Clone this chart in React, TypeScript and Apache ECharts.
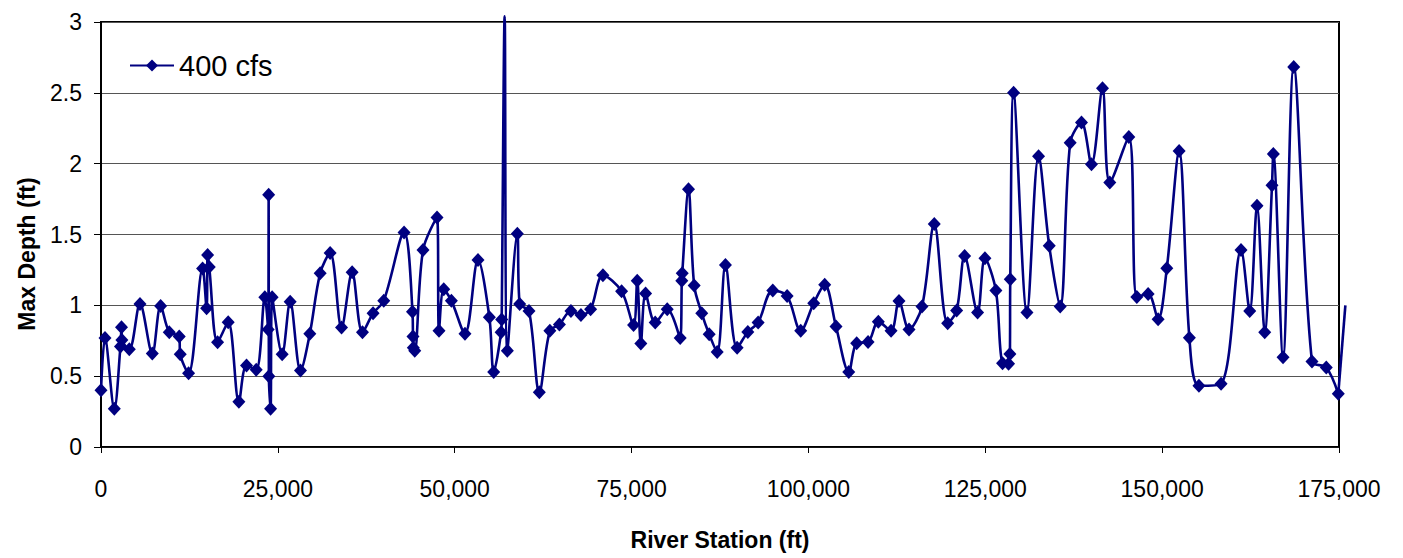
import React, { useEffect, useRef } from "react";
import * as echarts from "echarts";

const FONT = "'Liberation Sans', Arial, Helvetica, sans-serif";
const SERIES_NAME = "400 cfs";
const X_TITLE = "River Station (ft)";
const Y_TITLE = "Max Depth (ft)";
const LINE_COLOR = "#000080";

const X_MIN = 0;
const X_MAX = 175000;
const X_STEP = 25000;
const Y_MIN = 0;
const Y_MAX = 3;
const Y_STEP = 0.5;

const stations = [
  0, 565, 1880, 2750, 2900, 2950, 4000, 5510, 7250, 8430, 9650, 11060, 11200, 12380,
  14360, 14930, 15070, 15300, 16480, 17980, 19490, 20570, 21940, 23160, 23630, 23700,
  23730, 23970, 24190, 25610, 26740, 28200, 29520, 30980, 32390, 34000, 35500, 36960,
  38460, 39970, 42840, 44030, 44100, 44150, 44350, 45520, 47500, 47780, 48450, 49530,
  51450, 53290, 54900, 55510, 56560, 56640, 57060, 57440, 58850, 59180, 60500, 61960,
  63450, 64800, 66430, 67840, 69210, 70950, 73590, 75280, 75800, 76310, 76980, 78340,
  80040, 81870, 82100, 82160, 83050, 83850, 84920, 85970, 87100, 88270, 89920, 91430,
  92890, 94960, 96990, 98910, 100750, 102300, 103900, 105700, 106820, 108430, 109880,
  111680, 112800, 114220, 116050, 117790, 119680, 120950, 122080, 123910, 124950,
  126500, 127440, 128290, 128480, 128530, 129000, 130890, 132530, 134040, 135590,
  137000, 138600, 140010, 141570, 142600, 145290, 146420, 148020, 149430, 150660,
  152400, 153850, 155200, 158330, 161150, 162380, 163410, 164500, 165530, 165720,
  167090, 168600, 171180, 173200, 174900, 175900,
];

const depths = [
  0.4, 0.77, 0.27, 0.71, 0.846, 0.756, 0.69, 1.01, 0.66, 0.995, 0.81, 0.78, 0.655, 0.52,
  1.26, 0.98, 1.355, 1.27, 0.74, 0.88, 0.32, 0.575, 0.545, 1.057, 0.83, 1.78,
  0.5, 0.27, 1.057, 0.655, 1.026, 0.54, 0.8, 1.226, 1.37, 0.843, 1.233, 0.81,
  0.944, 1.033, 1.515, 0.955, 0.78, 0.7, 0.68, 1.39, 1.62, 0.82, 1.113, 1.033,
  0.8, 1.32, 0.916, 0.53, 0.81, 0.9, 3.04, 0.68, 1.505, 1.01, 0.96, 0.387,
  0.82, 0.865, 0.96, 0.932, 0.972, 1.212, 1.1, 0.862, 1.174, 0.73, 1.083, 0.878,
  0.972, 0.77, 1.174, 1.226, 1.82, 1.14, 0.944, 0.796, 0.67, 1.285, 0.7, 0.812,
  0.878, 1.104, 1.066, 0.82, 1.015, 1.146, 0.85, 0.53, 0.733, 0.742, 0.885,
  0.82, 1.031, 0.83, 0.991, 1.574, 0.874, 0.963, 1.348, 0.949, 1.332,
  1.104, 0.592, 0.587, 0.657, 1.184, 2.5, 0.949, 2.053, 1.42, 0.991,
  2.147, 2.29, 1.996, 2.532, 1.867, 2.189, 1.059, 1.08, 0.902, 1.261,
  2.09, 0.772, 0.432, 0.446, 1.39, 0.96, 1.703, 0.81, 1.848, 2.069,
  0.634, 2.682, 0.603, 0.561, 0.376, 1.0,
];

export default function App() {
  const ref = useRef<HTMLDivElement>(null);

  useEffect(() => {
    if (!ref.current) return;
    const chart = echarts.init(ref.current, null, { renderer: "svg" });

    // points inside the x-range go to the main line; the tail beyond X_MAX
    // (plus the last inside point) is drawn by a small custom series
    const mainData: any[] = [];
    const tail: number[][] = [];
    stations.forEach((x, i) => {
      const y = depths[i];
      if (x <= X_MAX) {
        mainData.push(y > Y_MAX ? { value: [x, y], symbol: "none", symbolSize: 0 } : [x, y]);
      } else {
        if (tail.length === 0 && i > 0) tail.push([stations[i - 1], depths[i - 1]]);
        tail.push([x, y]);
      }
    });

    chart.setOption({
      animation: false,
      backgroundColor: "#ffffff",
      textStyle: { fontFamily: FONT },
      grid: {
        left: 101,
        right: 64,
        top: 22,
        bottom: 111,
        show: true,
        borderColor: "#000",
        borderWidth: 2,
        backgroundColor: "transparent",
      },
      legend: {
        data: [SERIES_NAME],
        left: 124,
        top: 46,
        itemWidth: 44,
        itemHeight: 15,
        textStyle: { fontSize: 29, color: "#000", fontFamily: FONT },
      },
      xAxis: {
        type: "value",
        min: X_MIN,
        max: X_MAX,
        interval: X_STEP,
        axisLine: { show: true, lineStyle: { color: "#000", width: 1.5 } },
        axisTick: { show: true, length: 6, lineStyle: { color: "#000" } },
        splitLine: { show: false },
        axisLabel: {
          fontSize: 23,
          color: "#000",
          margin: 30,
          formatter: (v: number) => v.toLocaleString("en-US"),
        },
        name: X_TITLE,
        nameLocation: "middle",
        nameGap: 81,
        nameTextStyle: { fontSize: 23, fontWeight: "bold", color: "#000" },
      },
      yAxis: {
        type: "value",
        min: Y_MIN,
        max: Y_MAX,
        interval: Y_STEP,
        axisLine: { show: true, lineStyle: { color: "#000", width: 2 } },
        axisTick: { show: true, length: 7, lineStyle: { color: "#000" } },
        splitLine: { show: true, lineStyle: { color: "#555", width: 1.2 } },
        axisLabel: { fontSize: 23, color: "#000", margin: 19 },
      },
      graphic: [
        {
          type: "text",
          x: 27,
          y: 254,
          rotation: Math.PI / 2,
          style: {
            text: Y_TITLE,
            fontSize: 23,
            fontWeight: "bold",
            fontFamily: FONT,
            fill: "#000",
            align: "center",
            verticalAlign: "middle",
          },
        },
      ],
      series: [
        {
          type: "line",
          name: SERIES_NAME,
          data: mainData,
          smooth: 0.33,
          clip: false,
          showSymbol: true,
          symbol: "diamond",
          symbolSize: [13, 14],
          lineStyle: { color: LINE_COLOR, width: 2.6 },
          itemStyle: { color: LINE_COLOR },
        },
        {
          type: "custom",
          name: "tail",
          silent: true,
          clip: false,
          data: tail,
          renderItem: (params: any, api: any) => {
            const i = params.dataIndex;
            if (i === 0) return null;
            const p0 = api.coord(tail[i - 1]);
            const p1 = api.coord([api.value(0), api.value(1)]);
            return {
              type: "line",
              shape: { x1: p0[0], y1: p0[1], x2: p1[0], y2: p1[1] },
              style: { stroke: LINE_COLOR, lineWidth: 2.6, fill: null },
            };
          },
        },
      ],
    });

    return () => chart.dispose();
  }, []);

  return (
    <div
      ref={ref}
      style={{ position: "fixed", left: 0, top: 0, width: 1403, height: 558, background: "#fff" }}
    />
  );
}
